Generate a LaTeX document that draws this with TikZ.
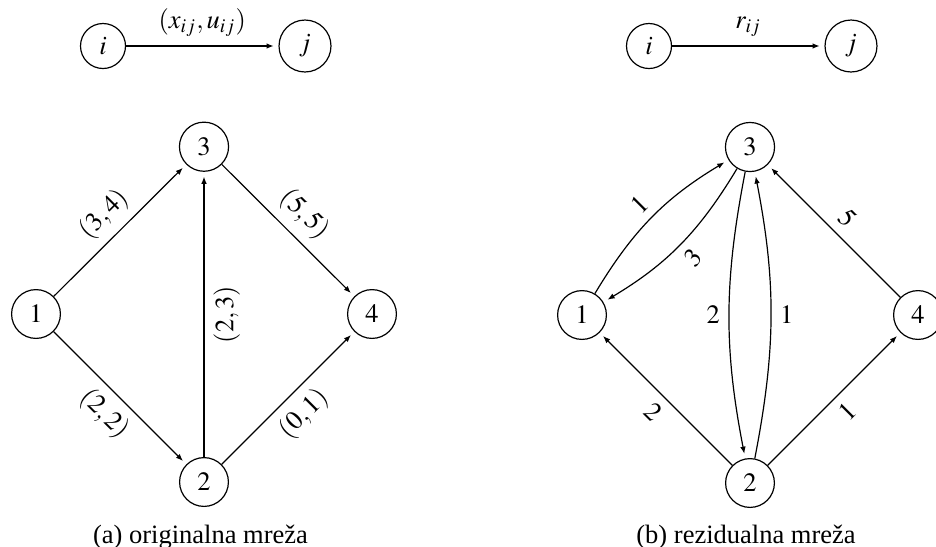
\documentclass[tikz,border=0pt]{standalone}
\usepackage{mathptmx}
\usepackage[no-math]{fontspec}
\setmainfont{Liberation Serif}
\usetikzlibrary{arrows.meta}
\begin{document}
\begin{tikzpicture}[x=0.3774pt,y=-0.3774pt,
  vert/.style={circle,draw,line width=0.45pt,inner sep=3.6pt},
  arc/.style={line width=0.45pt,-{Latex[length=2.7pt,width=2.1pt]},shorten >=1.8pt}]
\useasboundingbox (0,0) rectangle (936,546);
% legend (a)
\node[vert] (ai) at (103,46) {$i$};
\node[vert] (aj) at (305,46) {$j$};
\draw[arc] (ai) -- node[above] {$(x_{ij},u_{ij})$} (aj);
% legend (b)
\node[vert] (bi) at (649,46) {$i$};
\node[vert] (bj) at (851,46) {$j$};
\draw[arc] (bi) -- node[above] {$r_{ij}$} (bj);
% original network
\node[vert] (a1) at (36,314) {$1$};
\node[vert] (a3) at (204,146.7) {$3$};
\node[vert] (a4) at (372,314) {$4$};
\node[vert] (a2) at (204,482) {$2$};
\draw[arc] (a1) -- node[above,sloped] {$(3,4)$} (a3);
\draw[arc] (a1) -- node[below,sloped] {$(2,2)$} (a2);
\draw[arc] (a2) -- node[below,sloped] {$(2,3)$} (a3);
\draw[arc] (a3) -- node[above,sloped] {$(5,5)$} (a4);
\draw[arc] (a2) -- node[below,sloped] {$(0,1)$} (a4);
\node (capa) at (200.5,537) {(a) originalna mreža};
% residual network
\node[vert] (b1) at (582,315) {$1$};
\node[vert] (b3) at (750,147) {$3$};
\node[vert] (b4) at (918,315) {$4$};
\node[vert] (b2) at (750,483) {$2$};
\draw[arc] (b1) to[bend left=14] node[above,sloped] {$1$} (b3);
\draw[arc] (b3) to[bend left=14] node[below,sloped] {$3$} (b1);
\draw[arc] (b3) to[bend right=11] node[left] {$2$} (b2);
\draw[arc] (b2) to[bend right=11] node[right] {$1$} (b3);
\draw[arc] (b4) -- node[above,sloped] {$5$} (b3);
\draw[arc] (b2) -- node[below,sloped] {$2$} (b1);
\draw[arc] (b2) -- node[below,sloped] {$1$} (b4);
\node (capb) at (746,537) {(b) rezidualna mreža};
\end{tikzpicture}
\end{document}
